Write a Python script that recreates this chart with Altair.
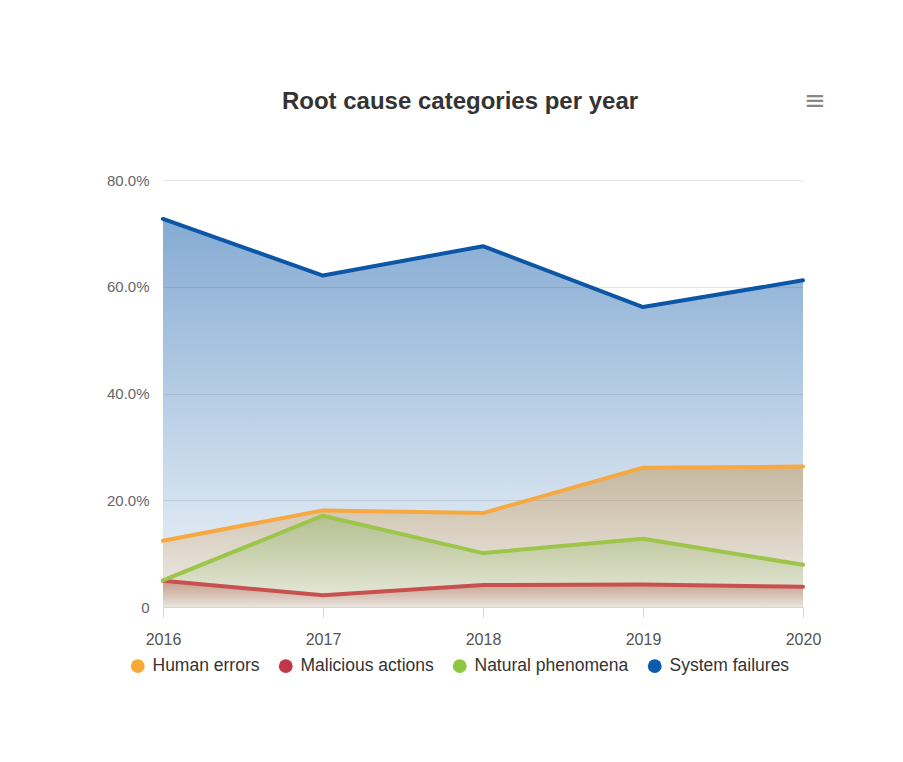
import altair as alt
import pandas as pd

years = [2016, 2017, 2018, 2019, 2020]
series_names = ["Human errors", "Malicious actions", "Natural phenomena", "System failures"]
human_errors = [12.4, 18.1, 17.6, 26.1, 26.3]
malicious_actions = [4.9, 2.2, 4.1, 4.2, 3.8]
natural_phenomena = [5.0, 17.1, 10.1, 12.8, 7.9]
system_failures = [72.7, 62.1, 67.6, 56.2, 61.2]

line_colors = ["#f7a83e", "#c8504f", "#9cc54a", "#0b57a6"]
legend_colors = ["#f7a935", "#c0374a", "#8dc63f", "#0b5cad"]
fill_rgb = ["247,168,62", "200,80,79", "156,197,74", "11,87,166"]
fill_top_opacity = [0.5, 0.5, 0.4, 0.5]

values = [human_errors, malicious_actions, natural_phenomena, system_failures]
rows = []
for name, vals in zip(series_names, values):
    for y, v in zip(years, vals):
        rows.append({"year": y, "series": name, "value": v})
df = pd.DataFrame(rows)

FONT = "Liberation Sans"

x_enc = alt.X(
    "year:Q",
    scale=alt.Scale(domain=[2016, 2020], nice=False),
    axis=alt.Axis(
        values=years, format="d", title=None, grid=False,
        tickColor="#ccd6eb", tickSize=10, domainColor="#ccd6eb",
        labelColor="#555555", labelFontSize=16, labelPadding=14, labelFont=FONT,
        labelFlush=False,
    ),
)
y_enc = alt.Y(
    "value:Q",
    scale=alt.Scale(domain=[0, 80], nice=False),
    axis=alt.Axis(
        values=[0, 20, 40, 60, 80], title=None, grid=True, gridColor="#e6e6e6",
        domain=False, ticks=False, labelColor="#666666", labelFontSize=15,
        labelFont=FONT, labelPadding=14,
        labelExpr="datum.value == 0 ? '0' : format(datum.value, '.1f') + '%'",
    ),
)

base = alt.Chart(df)
layers = []
for name, rgb, op in zip(series_names, fill_rgb, fill_top_opacity):
    layers.append(
        base.transform_filter(alt.datum.series == name).mark_area(
            opacity=1,
            color=alt.Gradient(
                gradient="linear",
                stops=[
                    alt.GradientStop(color=f"rgba({rgb},{op})", offset=0),
                    alt.GradientStop(color=f"rgba({rgb},0.06)", offset=1),
                ],
                x1=1, x2=1, y1=0, y2=1,
            ),
        ).encode(x=x_enc, y=y_enc)
    )
for name, col in zip(series_names, line_colors):
    layers.append(
        base.transform_filter(alt.datum.series == name).mark_line(
            color=col, strokeWidth=4, strokeCap="round", strokeJoin="round"
        ).encode(x=x_enc, y=y_enc)
    )

legend_layer = base.mark_point(filled=True, opacity=0, size=1).encode(
    x=x_enc, y=y_enc,
    color=alt.Color(
        "series:N",
        scale=alt.Scale(domain=series_names, range=legend_colors),
        legend=alt.Legend(
            title=None, orient="none", legendX=-34, legendY=477,
            direction="horizontal", symbolType="circle", symbolSize=190,
            symbolOpacity=1, symbolStrokeWidth=0,
            labelFont=FONT, labelFontSize=17.5, labelColor="#333333",
            labelOffset=6, columnPadding=17,
        ),
    ),
)
layers.append(legend_layer)

menu = alt.Chart(pd.DataFrame({"t": ["\u2261"]})).mark_text(
    font="DejaVu Sans", fontSize=26, color="#888888", align="center", baseline="middle"
).encode(text="t:N", x=alt.value(652), y=alt.value(-79))
layers.append(menu)

chart = alt.layer(*layers).properties(
    width=640,
    height=427,
    background="white",
    title=alt.TitleParams(
        "Root cause categories per year", anchor="middle", dx=-23,
        font=FONT, fontSize=24, fontWeight="bold", color="#333333", offset=-26,
    ),
    autosize=alt.AutoSizeParams(type="none"),
    padding={"left": 155, "top": 172, "right": 92, "bottom": 130},
).configure_view(strokeWidth=0, stroke="transparent")

chart.save("out.html", embed_options={"renderer": "svg", "actions": False})
